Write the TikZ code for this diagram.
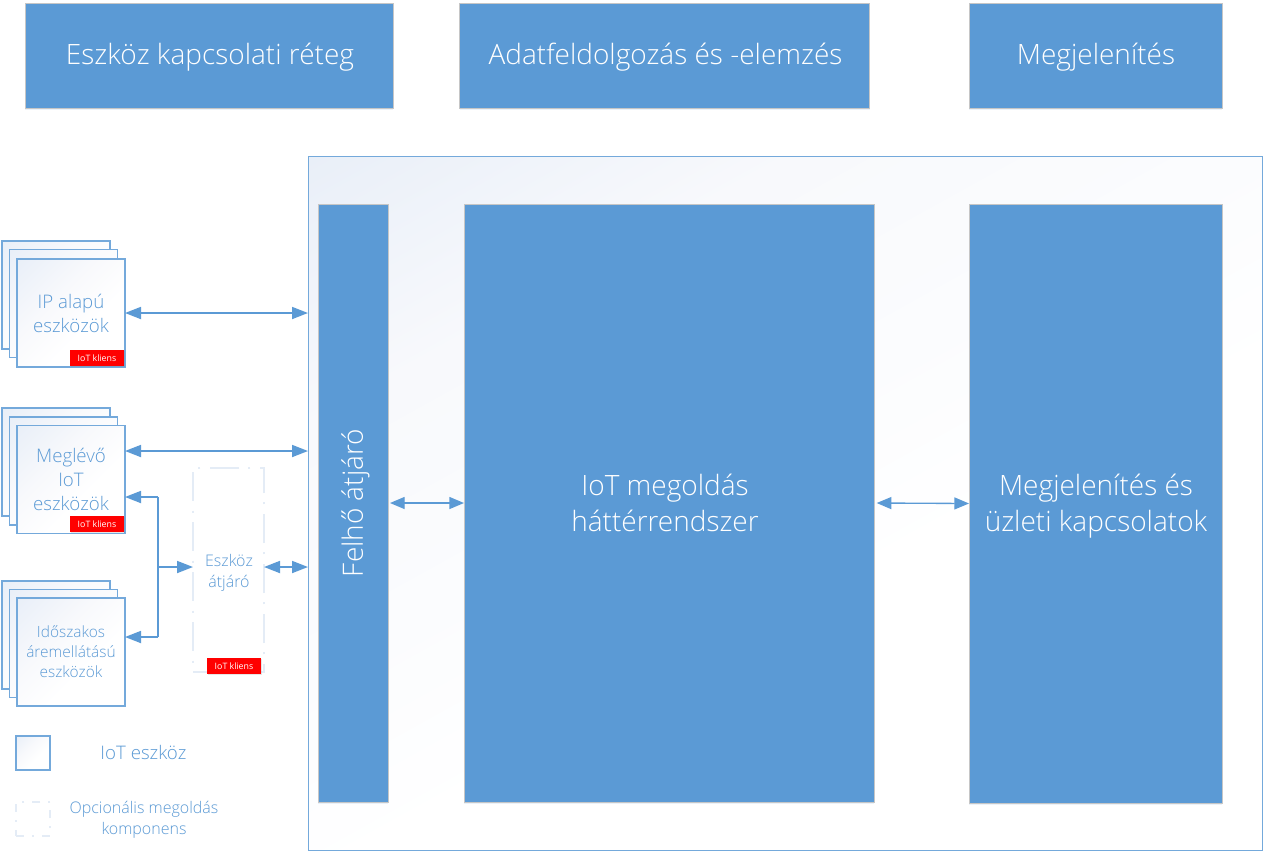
\documentclass[tikz,border=0pt]{standalone}
\usepackage{fontspec}
\setmainfont{Open Sans Light}
\newfontfamily\tagfont{Open Sans}
\usetikzlibrary{arrows.meta,shadows,calc}
\definecolor{az}{HTML}{5B9AD5}
\definecolor{pale}{HTML}{E9EFF8}
\definecolor{paleb}{HTML}{F8F9FC}
\definecolor{palec}{HTML}{FBFCFE}
\definecolor{dashc}{HTML}{E4ECF6}
\pgfdeclareverticalshading{panelfade}{100bp}{color(0bp)=(white);color(43bp)=(white);color(55bp)=(palec);color(69bp)=(paleb);color(84bp)=(pale);color(100bp)=(pale)}
\pgfdeclareverticalshading{devfade}{100bp}{color(0bp)=(white);color(40bp)=(white);color(60bp)=(paleb);color(85bp)=(pale);color(100bp)=(pale)}
\tikzset{
  x=0.75pt,y=-0.75pt,
  sz/.style 2 args={minimum width=#1*0.75pt,minimum height=#2*0.75pt},
  base/.style={inner sep=0pt,outer sep=0pt,align=center},
  bluebox/.style={base,fill=az,draw=gray!45,line width=0.5pt,
     drop shadow={shadow xshift=0pt,shadow yshift=-1.5pt,opacity=0.12,fill=az}},
  bigtext/.style={base,text=white,font=\fontsize{21}{27}\selectfont},
  device/.style={base,draw=az!85!white,line width=1pt,shading=devfade,shading angle=45,text=az,font=\fontsize{14}{18}\selectfont,sz={108}{108}},
  devicesm/.style={device,font=\fontsize{11.6}{15}\selectfont},
  tag/.style={base,fill=red,text=white,font=\tagfont\fontsize{6.6}{8}\selectfont,sz={54}{16},
     drop shadow={shadow xshift=0.6pt,shadow yshift=-0.8pt,opacity=0.2,fill=gray}},
  optional/.style={base,draw=dashc,line width=1.5pt,fill=white,dash pattern=on 22pt off 7pt on 1.5pt off 7pt},
  lbl/.style={base,text=az,font=\fontsize{14}{18}\selectfont},
  lblsm/.style={base,text=az,font=\fontsize{12}{15.5}\selectfont},
  link/.style={draw=az,line width=1.3pt},
  twoway/.style={link,{Triangle[length=12pt,width=9pt]}-{Triangle[length=12pt,width=9pt]}},
  oneway/.style={link,-{Triangle[length=12pt,width=9pt]}},
  twowaythin/.style={draw=az,line width=1pt,{Triangle[length=11pt,width=9pt]}-{Triangle[length=11pt,width=9pt]}},
}
\begin{document}
\begin{tikzpicture}
\useasboundingbox (0,0) rectangle (1263,851);
\fill[white] (0,0) rectangle (1263,851);
% top headers
\node[bluebox,sz={368}{105}] (h1) at (209,55.5) {};
\node[bluebox,sz={410}{105}] (h2) at (664.5,55.5) {};
\node[bluebox,sz={253}{105}] (h3) at (1095.5,55.5) {};
\node[bigtext] (h1t) at (210,57) {Eszköz kapcsolati réteg};
\node[bigtext] (h2t) at (665.5,57) {Adatfeldolgozás és -elemzés};
\node[bigtext] (h3t) at (1096,57) {Megjelenítés};
% panel
\node[base,draw=az!85!white,line width=0.75pt,shading=panelfade,shading angle=29,sz={954}{694}] (panel) at (785,503) {};
\node[bluebox,sz={70}{598}] (gw) at (353,503) {};
\node[bigtext,rotate=90] (gwt) at (355.5,503) {Felhő átjáró};
\node[bluebox,sz={410}{598}] (back) at (669,503) {};
\node[bigtext] (backt) at (665,503) {IoT megoldás\\háttérrendszer};
\node[bluebox,sz={253}{599}] (pres) at (1095.5,503.5) {};
\node[bigtext] (prest) at (1096,506) {Megjelenítés és\\üzleti kapcsolatok};
% stacks
\node[device] (a1) at (56,295) {};
\node[device] (a2) at (63.5,303.5) {};
\node[device] (a3) at (71,313) {IP alapú\\eszközök};
\node[tag] (ta) at (97,358) {IoT kliens};
\node[device] (b1) at (56,462) {};
\node[device] (b2) at (63.5,471) {};
\node[device] (b3) at (71,479.5) {Meglévő\\IoT\\eszközök};
\node[tag] (tb) at (97,524) {IoT kliens};
\node[device] (c1) at (56,635) {};
\node[device] (c2) at (63.5,643.5) {};
\node[devicesm] (c3) at (71,652) {Időszakos\\áremellátású\\eszközök};
% gateway
\node[optional,sz={71}{204}] (dg) at (228.5,570) {};
\node[lblsm] (dgt) at (229,573) {Eszköz\\átjáró};
\node[tag] (tg) at (234,666) {IoT kliens};
% legend
\node[device,sz={34}{34}] (l1) at (33,753) {};
\node[lbl] (l1t) at (143.5,752.5) {IoT eszköz};
\node[optional,sz={34}{34},dash pattern=on 6pt off 6pt on 1.5pt off 6pt] (l2) at (33,819) {};
\node[lblsm] (l2t) at (144,820) {Opcionális megoldás\\komponens};
% connectors
\coordinate (j) at (158,567);
\draw[twoway] (a3.east) -- (a3.east -| panel.west);
\draw[twoway] (b3.east |- 0,451) -- (panel.west |- 0,451);
\draw[oneway] (j |- 0,497) -- (b3.east |- 0,497);
\draw[link] (j |- 0,497) -- (j |- 0,637);
\draw[oneway] (j |- 0,637) -- (c3.east |- 0,637);
\draw[oneway] (j) -- (dg.west |- j);
\draw[twoway] (dg.east |- j) -- (panel.west |- j);
\draw[twowaythin] ([xshift=1.5pt]gw.east) -- (back.west);
\draw[twowaythin] ([xshift=2pt]back.east) -- (pres.west);
\end{tikzpicture}
\end{document}
